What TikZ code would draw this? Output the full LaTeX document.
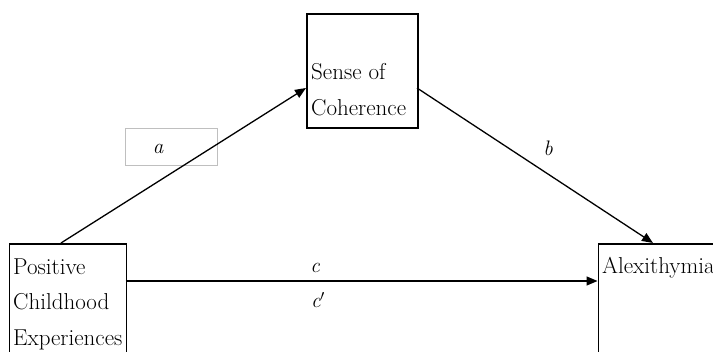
\documentclass[tikz,border=0pt]{standalone}
\usetikzlibrary{arrows.meta}
\begin{document}
\begin{tikzpicture}[x=1pt,y=-1pt,
  box/.style={draw=black,line width=1.8pt,inner sep=0pt},
  txt/.style={anchor=base west,inner sep=0pt,font=\fontsize{23}{26}\selectfont},
  lab/.style={inner sep=0pt,font=\fontsize{21}{24}\selectfont\itshape},
  conn/.style={line width=1.3pt,-{Triangle[length=11pt,width=9pt]}}]
\useasboundingbox (0,0) rectangle (713,352);
\clip (0,0) rectangle (713,352);
% boxes
\node[box,minimum width=117pt,minimum height=130pt,anchor=north west] (pce) at (8.5,243) {};
\node[box,minimum width=111pt,minimum height=114pt,anchor=north west] (soc) at (306,13) {};
\node[box,minimum width=130pt,minimum height=130pt,anchor=north west] (alx) at (597.5,243) {};
% texts
\node[txt] (t1) at (13,275) {Positive};
\node[txt] (t2) at (13,310) {Childhood};
\node[txt] (t3) at (13,346) {Experiences};
\node[txt] (t4) at (311,80) {Sense of};
\node[txt] (t5) at (311,116) {Coherence};
\node[txt] (t6) at (602,274) {Alexithymia};
% label a box
\node[draw=black!25,line width=0.6pt,minimum width=92pt,minimum height=37pt,anchor=north west] (abox) at (125,128) {};
\node[lab] (la) at (158,149) {a};
\node[lab] (lb) at (548,148) {b};
\node[lab] (lc) at (315,268) {c};
\node[lab] (lcp) at (318,300) {c$'$};
% connectors
\coordinate (aS) at (61,243);
\coordinate (aE) at (306,88);
\coordinate (bS) at (417,88);
\coordinate (bE) at (653,243);
\coordinate (cS) at (125.5,281);
\coordinate (cE) at (597.5,281);
\draw[conn] (aS) -- (aE);
\draw[conn] (bS) -- (bE);
\draw[conn] (cS) -- (cE);
\end{tikzpicture}
\end{document}
